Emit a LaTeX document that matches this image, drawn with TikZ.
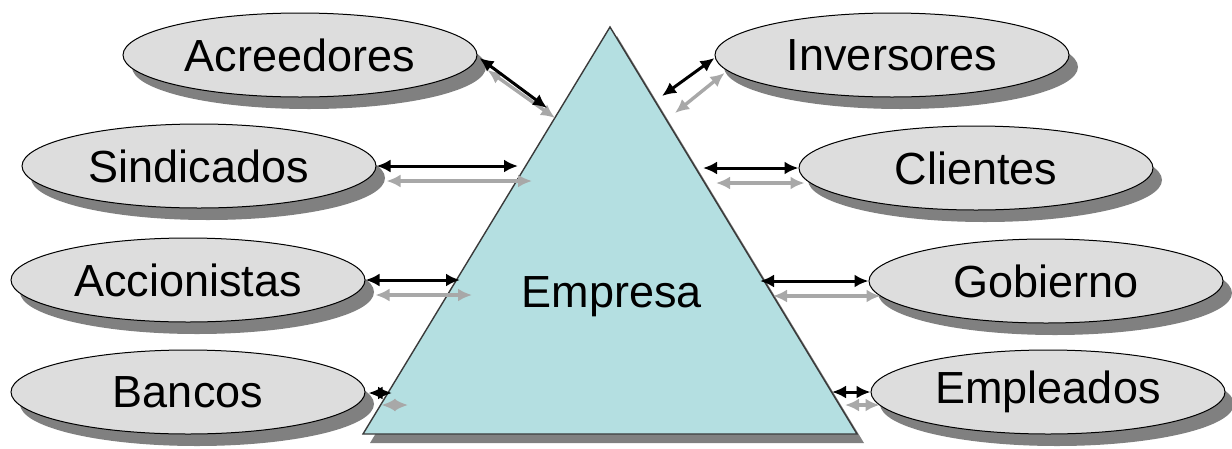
\documentclass[tikz,border=0pt]{standalone}
\usepackage{fontspec}
\setmainfont{Liberation Sans}
\usetikzlibrary{shapes.geometric,shadows,arrows.meta}
\definecolor{ovalfill}{HTML}{DDDDDD}
\definecolor{shadegray}{HTML}{808080}
\definecolor{trifill}{HTML}{B4DFE1}
\definecolor{triedge}{HTML}{3A3A3A}
\definecolor{lightflow}{HTML}{A8A8A8}
\begin{document}
\begin{tikzpicture}[x=1pt,y=-1pt,
  party/.style={ellipse, draw=black, line width=1pt, fill=ovalfill,
    minimum width=354pt, minimum height=84pt, inner sep=0pt,
    font=\fontsize{45}{54}\selectfont,
    drop shadow={shadow xshift=9pt, shadow yshift=-12pt, fill=shadegray, opacity=1}},
  label/.style={font=\fontsize{45}{54}\selectfont, inner sep=0pt},
  darkflow/.style={{Latex[length=14pt,width=13pt]}-{Latex[length=14pt,width=13pt]},
    line width=3pt, black},
  grayflow/.style={{Latex[length=14pt,width=13pt]}-{Latex[length=14pt,width=13pt]},
    line width=3.4pt, lightflow}
]
\useasboundingbox (0,0) rectangle (1232,448);

% the company triangle with its shadow
\coordinate (tl) at (363,434);
\coordinate (tr) at (857,434);
\coordinate (tt) at (610,27);
\fill[shadegray] ([shift={(7,9)}]tl) -- ([shift={(7,9)}]tt) -- ([shift={(7,9)}]tr) -- cycle;
\filldraw[fill=trifill, draw=triedge, line width=1.4pt] (tl) -- (tt) -- (tr) -- cycle;
\node[label] (emp0) at (612,297) {Empresa};

% stakeholders
\node[party] (acr) at (300,55)  {Acreedores};
\node[party] (inv) at (892,55)  {Inversores};
\node[party] (sin) at (199,166) {Sindicados};
\node[party] (cli) at (976,168) {Clientes};
\node[party] (acc) at (188,280) {Accionistas};
\node[party] (gob) at (1046,281) {Gobierno};
\node[party] (ban) at (188,392) {Bancos};
\node[party] (emp) at (1048,392) {Empleados};

% ends of the flows on the triangle sides
\coordinate (acr-d) at (547,108);  \coordinate (acr-g) at (555,118);
\coordinate (inv-d) at (662,96);   \coordinate (inv-g) at (675,113);
\coordinate (sin-d) at (518,166);  \coordinate (sin-g) at (532,181);
\coordinate (cli-d) at (703,168);  \coordinate (cli-g) at (716,183);
\coordinate (acc-d) at (460,280);  \coordinate (acc-g) at (472,295);
\coordinate (gob-d) at (760,281);  \coordinate (gob-g) at (773,296);
\coordinate (ban-d) at (392,393);  \coordinate (ban-g) at (408,405);
\coordinate (emp-d) at (832,392);  \coordinate (emp-g) at (845,405);

% two-way flows: light lower line, dark upper line
\draw[grayflow] ([shift={(10,15)}]acr.east) -- (acr-g);
\draw[grayflow] ([shift={(10,18)}]inv.west) -- (inv-g);
\draw[grayflow] ([shift={(10,15)}]sin.east) -- (sin-g);
\draw[grayflow] ([shift={(6,15)}]cli.west) -- (cli-g);
\draw[grayflow] ([shift={(10,15)}]acc.east) -- (acc-g);
\draw[grayflow] ([shift={(12,15)}]gob.west) -- (gob-g);
\draw[grayflow] ([shift={(16,13)}]ban.east) -- (ban-g);
\draw[grayflow] ([shift={(9,13)}]emp.west) -- (emp-g);

\draw[darkflow] ([shift={(2,3)}]acr.east) -- (acr-d);
\draw[darkflow] ([shift={(0,3)}]inv.west) -- (inv-d);
\draw[darkflow] (sin.east) -- (sin-d);
\draw[darkflow] (cli.west) -- (cli-d);
\draw[darkflow] (acc.east) -- (acc-d);
\draw[darkflow] (gob.west) -- (gob-d);
\draw[darkflow] ([shift={(3,1)}]ban.east) -- (ban-d);
\draw[darkflow] (emp.west) -- (emp-d);
\end{tikzpicture}
\end{document}
